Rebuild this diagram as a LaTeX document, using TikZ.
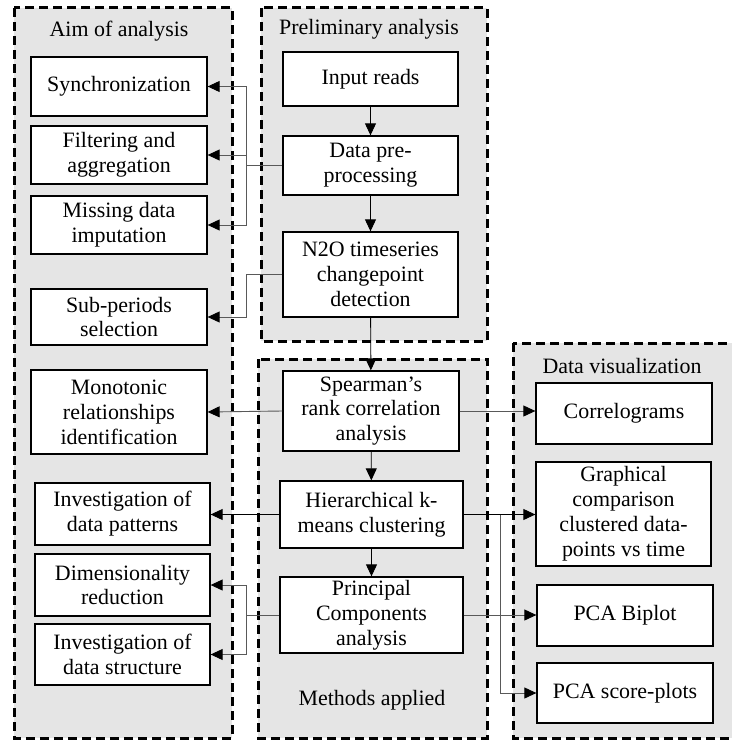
\documentclass[tikz,border=0pt]{standalone}
\usepackage{fontspec}
\setmainfont{Liberation Serif}
\usetikzlibrary{positioning,arrows.meta}

\begin{document}
\begin{tikzpicture}[x=1bp,y=-1bp,>={Triangle[length=12bp,width=11bp,color=black]},
  font=\fontsize{22}{25}\selectfont,
  panel/.style={draw,fill=gray!20,line width=3bp,dash pattern=on 9bp off 5bp},
  box/.style={draw,fill=white,line width=1.3bp,align=center,inner sep=0pt},
  conn/.style={->,line width=0.9bp,black!65},
  connk/.style={->,line width=0.9bp,black}]
  \path[use as bounding box,clip] (0,0) rectangle (732,740);

  \draw[panel] (14,8) rectangle (232,738);
  \draw[panel] (261,8) rectangle (487,341);
  \draw[panel] (258,359) rectangle (487,738);
  \draw[panel] (513,343) rectangle (750,738);

  \node (aimlbl) at (119,31) {Aim of analysis};
  \node (prelbl) at (369,29) {Preliminary analysis};
  \node (metlbl) at (372,700) {Methods applied};
  \node (vislbl) at (622,366) {Data visualization};

  \node[box,minimum width=176bp,minimum height=59bp] (sync) at (119,86.5) {Synchronization};
  \node[box,minimum width=176bp,minimum height=58bp] (filt) at (119,155) {Filtering and\\aggregation};
  \node[box,minimum width=176bp,minimum height=58bp] (miss) at (119,225) {Missing data\\imputation};
  \node[box,minimum width=176bp,minimum height=56bp] (subp) at (119,317) {Sub-periods\\selection};
  \node[box,minimum width=176bp,minimum height=84bp] (mono) at (119,412) {Monotonic\\relationships\\identification};
  \node[box,minimum width=175bp,minimum height=62bp] (patt) at (122.5,514) {Investigation of\\data patterns};
  \node[box,minimum width=175bp,minimum height=62bp] (dimr) at (122.5,585) {Dimensionality\\reduction};
  \node[box,minimum width=175bp,minimum height=61bp] (stru) at (122.5,654.5) {Investigation of\\data structure};

  \node[box,minimum width=175bp,minimum height=54bp] (inp) at (370.5,79) {Input reads};
  \node[box,minimum width=175bp,minimum height=59bp] (prep) at (370.5,165.5) {Data pre-\\processing};
  \node[box,minimum width=175bp,minimum height=85bp] (chpt) at (370.5,274.5) {N2O timeseries\\changepoint\\detection};
  \node[box,minimum width=176bp,minimum height=80bp] (spear) at (371,411) {Spearman’s\\rank correlation\\analysis};
  \node[box,minimum width=183bp,minimum height=67bp] (hier) at (371.5,514.5) {Hierarchical k-\\means clustering};
  \node[box,minimum width=183bp,minimum height=76bp] (pca) at (371.5,615) {Principal\\Components\\analysis};

  \node[box,minimum width=176bp,minimum height=61bp] (corr) at (624,413.5) {Correlograms};
  \node[box,minimum width=175bp,minimum height=104bp] (graph) at (623.5,514) {Graphical\\comparison\\clustered data-\\points vs time};
  \node[box,minimum width=176bp,minimum height=61bp] (biplot) at (625,615.5) {PCA Biplot};
  \node[box,minimum width=176bp,minimum height=60bp] (score) at (625,693) {PCA score-plots};

  \draw[connk] (inp) -- (prep);
  \draw[connk] (prep) -- (chpt);
  \draw[connk] (chpt) -- (spear);
  \draw[connk] (spear) -- (hier);
  \draw[connk] (hier) -- (pca);

  \coordinate (jl) at (246,0);
  \draw[conn] (prep.west) -- (prep.west -| jl) |- (sync.east);
  \draw[conn] (prep.west -| jl) |- (filt.east);
  \draw[conn] (prep.west -| jl) |- (miss.east);
  \draw[conn] (chpt.west) -- (chpt.west -| jl) |- (subp.east);
  \draw[conn] (spear.west) -- (mono.east);
  \draw[connk] (hier.west) -- (hier.west -| patt.east);
  \draw[conn] (pca.west) -- (pca.west -| jl) |- (dimr.east);
  \draw[conn] (pca.west -| jl) |- (stru.east);

  \coordinate (jr) at (500,0);
  \draw[conn] (spear.east) -- (spear.east -| corr.west);
  \draw[connk] (hier.east) -- (hier.east -| graph.west);
  \draw[conn] (hier.east -| jr) |- (score.west);
  \draw[conn] (pca.east) -- (pca.east -| biplot.west);
\end{tikzpicture}
\end{document}
